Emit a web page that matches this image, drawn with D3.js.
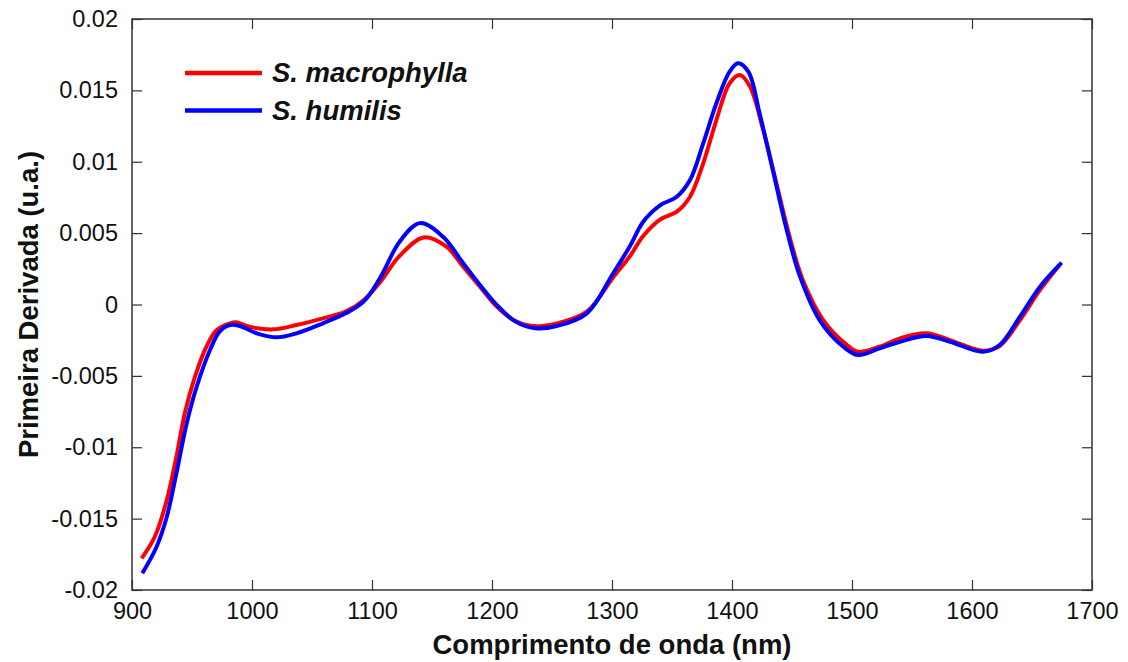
<!DOCTYPE html>
<html>
<head>
<meta charset="utf-8">
<script src="https://cdn.jsdelivr.net/npm/d3@7"></script>
<style>
  body { margin: 0; background: #fff; }
  svg { font-family: "Liberation Sans", Arial, sans-serif; }
</style>
</head>
<body>
<svg id="chart" width="1128" height="662"></svg>
<script>
// Data: [wavelength nm, first derivative]
const macrophylla = [
  [908, -0.01778], [919, -0.01627], [929, -0.0137], [937, -0.01066], [944, -0.00762],
  [952.5, -0.00506], [962, -0.00296], [970.6, -0.00179], [981.7, -0.00132], [987, -0.00125],
  [998, -0.00156], [1017.8, -0.00174], [1037, -0.00144], [1059, -0.00097], [1078, -0.0005],
  [1093, 0.0003], [1107, 0.0016], [1123, 0.0034], [1143, 0.0047], [1162, 0.00405],
  [1176, 0.00265], [1190, 0.00125], [1204, -0.00015], [1217.8, -0.00109], [1234, -0.00151],
  [1254, -0.00132], [1279, -0.0005], [1301, 0.0019], [1315, 0.0034], [1326, 0.0048],
  [1340, 0.00595], [1354, 0.0065], [1365, 0.00755], [1376, 0.00989], [1387, 0.01292],
  [1398, 0.0155], [1406.7, 0.01608], [1415, 0.01526], [1426, 0.01222], [1437, 0.00849],
  [1448, 0.00475], [1459, 0.00172], [1476, -0.00109], [1495.6, -0.00282], [1505, -0.00331],
  [1523, -0.00296], [1540, -0.00237], [1562, -0.00202], [1581.7, -0.00249], [1609, -0.00324],
  [1623, -0.00291], [1640, -0.00109], [1656.7, 0.00102], [1673, 0.00277]
];
const humilis = [
  [908.6, -0.01883], [920.5, -0.01697], [929, -0.01487], [937, -0.01183], [945.6, -0.00832],
  [953.9, -0.00576], [965, -0.00319], [973, -0.0019], [981.7, -0.00144], [990, -0.00151],
  [1004, -0.00202], [1020.6, -0.0023], [1037, -0.00202], [1059, -0.00132], [1078, -0.00062],
  [1093, 0.0002], [1107, 0.0019], [1123, 0.0044], [1140, 0.0057], [1159, 0.00476],
  [1176, 0.00289], [1190, 0.00137], [1204, -0.00003], [1219.7, -0.0012], [1236, -0.00167],
  [1254, -0.00151], [1279, -0.00062], [1301, 0.00219], [1315, 0.0041], [1326, 0.0058],
  [1340, 0.00695], [1354, 0.00755], [1365, 0.00872], [1376, 0.01129], [1387, 0.0141],
  [1398, 0.01631], [1405, 0.0169], [1413.6, 0.01631], [1423, 0.01339], [1434, 0.00942],
  [1445.6, 0.00522], [1456.7, 0.00195], [1473, -0.00109], [1492.8, -0.00296], [1505, -0.00354],
  [1523, -0.00307], [1540, -0.00261], [1562, -0.00221], [1581.7, -0.00261], [1609, -0.00331],
  [1623, -0.00284], [1640, -0.00085], [1656.7, 0.00125], [1674.7, 0.00293]
];
const xTicks = [900, 1000, 1100, 1200, 1300, 1400, 1500, 1600, 1700];
const yTicks = [-0.02, -0.015, -0.01, -0.005, 0, 0.005, 0.01, 0.015, 0.02];
const seriesNames = ["S. macrophylla", "S. humilis"];
const seriesColors = ["#ff0000", "#0000ff"];

const svg = d3.select("#chart");
const margin = { top: 19, right: 36, bottom: 72, left: 132 };
const width = +svg.attr("width") - margin.left - margin.right;
const height = +svg.attr("height") - margin.top - margin.bottom;

const g = svg.append("g").attr("transform", `translate(${margin.left},${margin.top})`);

const x = d3.scaleLinear().domain([900, 1700]).range([0, width]);
const y = d3.scaleLinear().domain([-0.02, 0.02]).range([height, 0]);

const fmtY = d => d === 0 ? "0" : String(+d.toFixed(3));

// Axes with inward ticks on all four sides (box style)
const axisColor = "#333";
function styleAxis(sel) {
  sel.select(".domain").remove();
  sel.selectAll(".tick line").attr("stroke", axisColor).attr("stroke-width", 1.2);
  sel.selectAll(".tick text").attr("fill", "#111").style("font-size", "23.5px");
}

g.append("g")
  .attr("transform", `translate(0,${height})`)
  .call(d3.axisBottom(x).tickValues(xTicks).tickSizeInner(-10).tickSizeOuter(0).tickPadding(12).tickFormat(d3.format("d")))
  .call(styleAxis);

g.append("g")
  .call(d3.axisTop(x).tickValues(xTicks).tickSizeInner(-10).tickSizeOuter(0).tickFormat(""))
  .call(styleAxis);

g.append("g")
  .call(d3.axisLeft(y).tickValues(yTicks).tickSizeInner(-10).tickSizeOuter(0).tickPadding(14).tickFormat(fmtY))
  .call(styleAxis);

g.append("g")
  .attr("transform", `translate(${width},0)`)
  .call(d3.axisRight(y).tickValues(yTicks).tickSizeInner(-10).tickSizeOuter(0).tickFormat(""))
  .call(styleAxis);

g.append("rect")
  .attr("width", width)
  .attr("height", height)
  .attr("fill", "none")
  .attr("stroke", axisColor)
  .attr("stroke-width", 1.5);

// Curves
const line = d3.line()
  .x(d => x(d[0]))
  .y(d => y(d[1]))
  .curve(d3.curveCatmullRom.alpha(0.5));

[macrophylla, humilis].forEach((data, i) => {
  g.append("path")
    .datum(data)
    .attr("fill", "none")
    .attr("stroke", seriesColors[i])
    .attr("stroke-width", 4)
    .attr("stroke-linejoin", "round")
    .attr("d", line);
});

// Legend
const legend = g.append("g").attr("transform", "translate(53,54)");
seriesNames.forEach((name, i) => {
  const row = legend.append("g").attr("transform", `translate(0,${i * 37.5})`);
  row.append("line")
    .attr("x1", 0).attr("x2", 77)
    .attr("stroke", seriesColors[i])
    .attr("stroke-width", 4.5);
  row.append("text")
    .attr("x", 87)
    .attr("y", 9)
    .style("font-size", "27.5px")
    .style("font-weight", "bold")
    .style("font-style", "italic")
    .attr("fill", "#111")
    .text(name);
});

// Axis titles
svg.append("text")
  .attr("x", margin.left + width / 2)
  .attr("y", 654)
  .attr("text-anchor", "middle")
  .style("font-size", "27.5px")
  .style("font-weight", "bold")
  .attr("fill", "#111")
  .text("Comprimento de onda (nm)");

svg.append("text")
  .attr("transform", `translate(38,${margin.top + height / 2}) rotate(-90)`)
  .attr("text-anchor", "middle")
  .style("font-size", "27.5px")
  .style("font-weight", "bold")
  .attr("fill", "#111")
  .text("Primeira Derivada (u.a.)");
</script>
</body>
</html>
